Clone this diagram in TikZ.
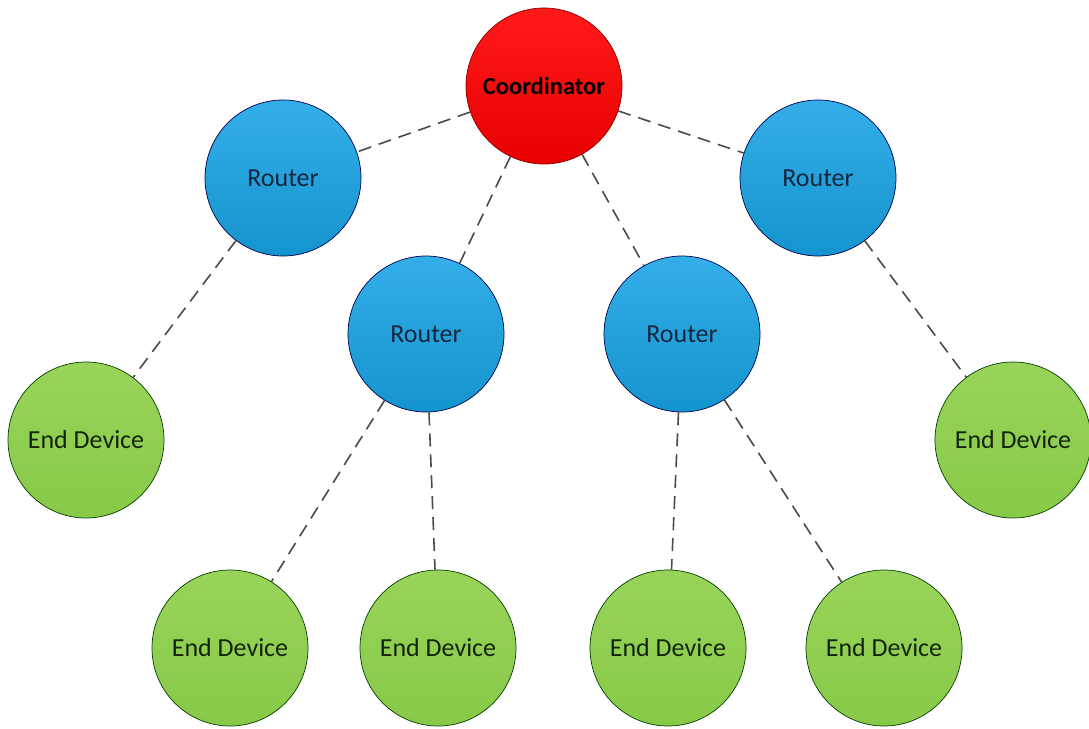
\documentclass[tikz,border=0pt]{standalone}
\usepackage{fontspec}
\setmainfont{Carlito}
\definecolor{redtop}{HTML}{FF1A1A}
\definecolor{redbot}{HTML}{E80000}
\definecolor{bluetop}{HTML}{34AEE8}
\definecolor{bluebot}{HTML}{1494CE}
\definecolor{greentop}{HTML}{98D45A}
\definecolor{greenbot}{HTML}{88C948}
\definecolor{linkgray}{HTML}{4A4A4A}
\definecolor{routertext}{HTML}{17263F}
\definecolor{devtext}{HTML}{14240C}
\begin{document}
\begin{tikzpicture}[x=1pt,y=-1pt,
  nodebase/.style={circle,minimum size=156pt,inner sep=0pt,font=\fontsize{26}{30}\selectfont,line width=0.7pt},
  coord/.style={nodebase,top color=redtop,bottom color=redbot,draw=red!55!black,font=\fontsize{24.5}{30}\selectfont\bfseries,text=black},
  router/.style={nodebase,top color=bluetop,bottom color=bluebot,draw=blue!30!black,text=routertext},
  enddev/.style={nodebase,top color=greentop,bottom color=greenbot,draw=green!25!black,text=devtext},
  link/.style={draw=linkgray,line width=1.6pt,dash pattern=on 13pt off 8pt}]
\useasboundingbox (0,0) rectangle (1089,728);
% coordinator and routers
\node[coord]  (C)  at (544,86)  {Coordinator};
\node[router] (R1) at (283,178) {Router};
\node[router] (R2) at (426,334) {Router};
\node[router] (R3) at (682,334) {Router};
\node[router] (R4) at (818,178) {Router};
% end devices
\node[enddev] (E1) at (86,440)   {End Device};
\node[enddev] (E2) at (230,648)  {End Device};
\node[enddev] (E3) at (438,648)  {End Device};
\node[enddev] (E4) at (668,648)  {End Device};
\node[enddev] (E5) at (884,648)  {End Device};
\node[enddev] (E6) at (1013,440) {End Device};
% dashed links
\draw[link] (C) -- (R1);
\draw[link] (C) -- (R2);
\draw[link] (C) -- (R3);
\draw[link] (C) -- (R4);
\draw[link] (R1) -- (E1);
\draw[link] (R2) -- (E2);
\draw[link] (R2) -- (E3);
\draw[link] (R3) -- (E4);
\draw[link] (R3) -- (E5);
\draw[link] (R4) -- (E6);
\end{tikzpicture}
\end{document}
